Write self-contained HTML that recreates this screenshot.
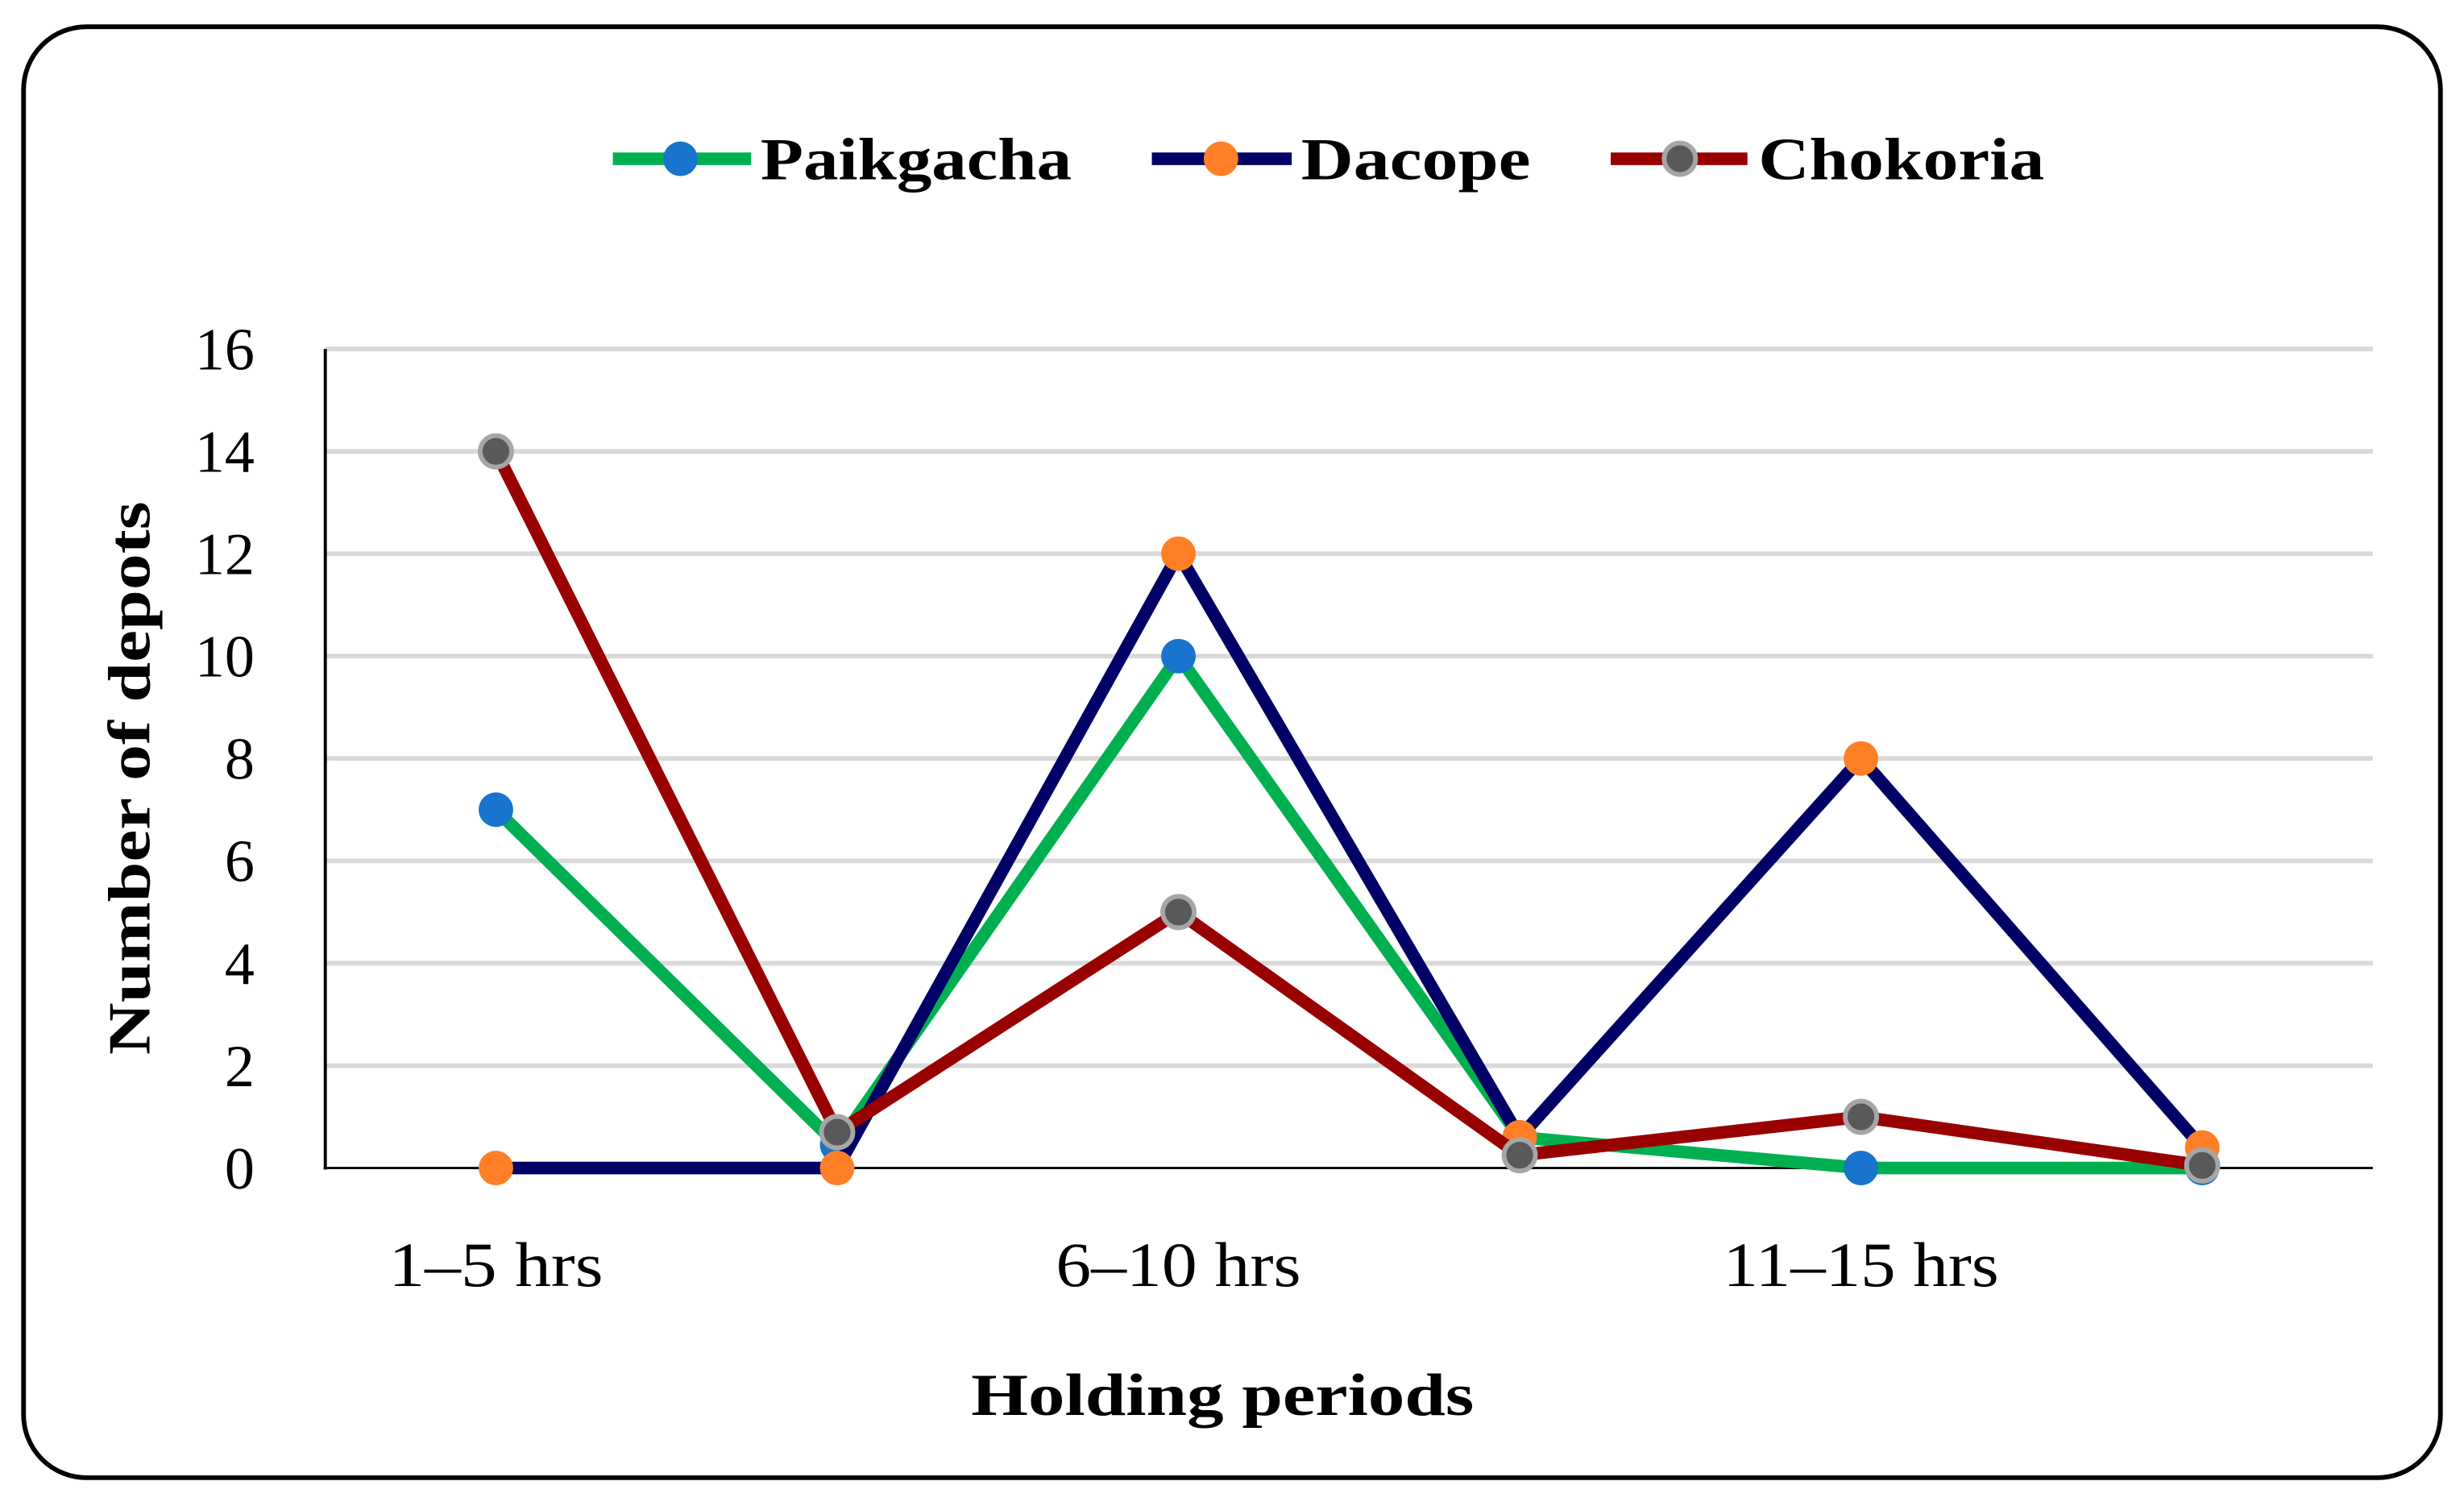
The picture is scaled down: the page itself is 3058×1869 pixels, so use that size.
<!DOCTYPE html>
<html><head><meta charset="utf-8"><style>html,body{margin:0;padding:0;background:#fff}svg{display:block}</style></head>
<body>
<svg id="chart" width="3058" height="1869" viewBox="0 0 1568 958" preserveAspectRatio="none" xmlns="http://www.w3.org/2000/svg" font-family="'Liberation Serif', serif">
<rect x="15" y="17" width="1538" height="923" rx="40" ry="40" fill="#fff" stroke="#000" stroke-width="3"/>
<g id="grid"></g>
<g id="yticks"></g>
<g id="xticks"></g>
<line x1="207" y1="222" x2="207" y2="744" stroke="#000" stroke-width="2"/>
<line x1="206" y1="743" x2="1510" y2="743" stroke="#000" stroke-width="1.5"/>
<g id="series"></g>
<text transform="translate(95,495) rotate(-90)" text-anchor="middle" font-size="38" font-weight="bold" textLength="352" lengthAdjust="spacingAndGlyphs">Number of depots</text>
<text x="778" y="900" text-anchor="middle" font-size="38" font-weight="bold" textLength="320" lengthAdjust="spacingAndGlyphs">Holding periods</text>
<g>
<g><line x1="390" y1="101" x2="478" y2="101" stroke="#00b050" stroke-width="8"/><circle cx="433" cy="101" r="11" fill="#1874cd"/><text x="484" y="114" font-size="38" font-weight="bold" textLength="198" lengthAdjust="spacingAndGlyphs">Paikgacha</text></g>
<g><line x1="733" y1="101" x2="822" y2="101" stroke="#000066" stroke-width="8"/><circle cx="777" cy="101" r="11" fill="#ff7f27"/><text x="828" y="114" font-size="38" font-weight="bold" textLength="146" lengthAdjust="spacingAndGlyphs">Dacope</text></g>
<g><line x1="1025" y1="101" x2="1112" y2="101" stroke="#990000" stroke-width="8"/><circle cx="1069" cy="101" r="10" fill="#595959" stroke="#a6a6a6" stroke-width="3"/><text x="1119" y="114" font-size="38" font-weight="bold" textLength="182" lengthAdjust="spacingAndGlyphs">Chokoria</text></g>
</g>
</svg>
<script>
const categories = ["1–5 hrs", "", "6–10 hrs", "", "11–15 hrs", ""];
const paikgacha = [7, 0.45, 10, 0.6, 0, 0];
const dacope = [0, 0, 12, 0.6, 8, 0.4];
const chokoria = [14, 0.7, 5, 0.25, 1, 0.05];
const yTicks = [0, 2, 4, 6, 8, 10, 12, 14, 16];

const NS = "http://www.w3.org/2000/svg";
const X0 = 207, X1 = 1510, Y0 = 743, Y1 = 222, YMAX = 16;
function xs(i){ return X0 + (X1 - X0) / categories.length * (i + 0.5); }
function ys(v){ return Y0 - (Y0 - Y1) * v / YMAX; }
function mk(tag, attrs, parent){ const e = document.createElementNS(NS, tag); for (const k in attrs) e.setAttribute(k, attrs[k]); parent.appendChild(e); return e; }

const grid = document.getElementById('grid');
const yt = document.getElementById('yticks');
yTicks.forEach(t => {
  if (t > 0) {
    const l = mk('line', {x1: X0, x2: X1, y1: ys(t), y2: ys(t), stroke: '#d9d9d9', 'stroke-width': 3}, grid);
    
    
  }
  const tx = mk('text', {x: 162, y: ys(t) + 13, 'text-anchor': 'end', 'font-size': 38}, yt);
  tx.textContent = t;
  
  
});
const xt = document.getElementById('xticks');
categories.forEach((c, i) => {
  if (!c) return;
  const tx = mk('text', {x: xs(i), y: 818, 'text-anchor': 'middle', 'font-size': 40, textLength: c.length * 19.5, lengthAdjust: 'spacingAndGlyphs'}, xt);
  tx.textContent = c;
  
  
});

const sg = document.getElementById('series');
function drawSeries(vals, color, name){
  const g = mk('g', {}, sg);
  
  
  const p = mk('polyline', {points: vals.map((v, i) => xs(i) + ',' + ys(v)).join(' '), fill: 'none', stroke: color, 'stroke-width': 8, 'stroke-linejoin': 'round'}, g);
  
  
  return g;
}
function drawMarkers(vals, g, name, fill, stroke){
  vals.forEach((v, i) => {
    const c = mk('circle', {cx: xs(i), cy: ys(v), r: stroke ? 10 : 11, fill: fill}, g);
    if (stroke) { c.setAttribute('stroke', stroke); c.setAttribute('stroke-width', 3); }
    
    
  });
}
const gp = drawSeries(paikgacha, '#00b050', 'paikgacha');
const gd = drawSeries(dacope, '#000066', 'dacope');
const gc = drawSeries(chokoria, '#990000', 'chokoria');
drawMarkers(paikgacha, gp, 'paikgacha', '#1874cd');
drawMarkers(dacope, gd, 'dacope', '#ff7f27');
drawMarkers(chokoria, gc, 'chokoria', '#595959', '#a6a6a6');
</script>
</body></html>
